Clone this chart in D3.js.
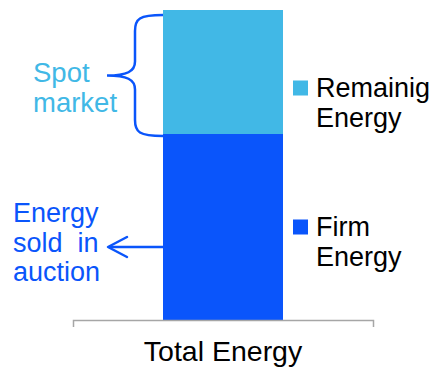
<!DOCTYPE html>
<html>
<head>
<meta charset="utf-8">
<script src="https://cdn.jsdelivr.net/npm/d3@7"></script>
<style>
  html, body { margin: 0; padding: 0; background: #fff; }
  svg { display: block; }
  text { font-family: "Liberation Sans", Arial, sans-serif; }
</style>
</head>
<body>
<script>
// ---- Data ----
const categories = ["Total Energy"];
const seriesNames = ["Firm Energy", "Remainig Energy"];
const firmValues = [60];
const remainingValues = [40];
const seriesColors = ["#0a55fb", "#41b8e6"];
const legendLines = [["Remainig", "Energy"], ["Firm", "Energy"]];
const spotLines = ["Spot", "market"];
const auctionLines = ["Energy", "sold  in", "auction"];

const W = 436, H = 368;
const svg = d3.select("body").append("svg").attr("width", W).attr("height", H);

const x = d3.scaleBand().domain(categories).range([73, 373]).paddingInner(0).paddingOuter(0.75);
const y = d3.scaleLinear().domain([0, 100]).range([320, 10]);

const table = categories.map((c, i) => ({ cat: c, "Firm Energy": firmValues[i], "Remainig Energy": remainingValues[i] }));
const stacked = d3.stack().keys(seriesNames)(table);

svg.selectAll("g.series").data(stacked).join("g")
  .attr("fill", (d, i) => seriesColors[i])
  .selectAll("rect").data(d => d).join("rect")
  .attr("x", d => x(d.data.cat))
  .attr("width", x.bandwidth())
  .attr("y", d => y(d[1]))
  .attr("height", d => y(d[0]) - y(d[1]));

// Axis
const axis = svg.append("g").attr("transform", `translate(0,${y(0)})`)
  .call(d3.axisBottom(x).tickSizeInner(0).tickSizeOuter(7).tickPadding(20));
axis.select(".domain").attr("stroke", "#a6a6a6").attr("stroke-width", 1.5);
axis.selectAll(".tick line").remove();
axis.selectAll(".tick text").attr("font-size", 28.5).attr("fill", "#000")
  .attr("font-family", "Liberation Sans, Arial, sans-serif").attr("dy", "0.71em").attr("y", 21);

// Legend
const legendBase = [97, 236];
const leg = svg.append("g");
[1, 0].forEach((si, k) => {
  const ty = legendBase[k];
  leg.append("rect").attr("x", 293).attr("y", ty - 16.5).attr("width", 15).attr("height", 15)
    .attr("fill", seriesColors[si]);
  legendLines[k].forEach((t, j) => {
    leg.append("text").attr("x", 316).attr("y", ty + j * 30).attr("font-size", 27)
      .attr("fill", "#000").text(t);
  });
});

// Brace for Spot market
const bx = x(categories[0]);
const yTop = y(100) + 5, yBot = y(60) + 2, yMid = (yTop + yBot) / 2;
const spine = bx - 28, tip = bx - 56;
const bracePath = d3.path();
bracePath.moveTo(bx, yTop);
bracePath.bezierCurveTo(spine + 4, yTop, spine, yTop + 4, spine, yTop + 16);
bracePath.lineTo(spine, yMid - 14);
bracePath.bezierCurveTo(spine, yMid - 4, spine - 8, yMid, tip, yMid);
bracePath.bezierCurveTo(spine - 8, yMid, spine, yMid + 4, spine, yMid + 14);
bracePath.lineTo(spine, yBot - 16);
bracePath.bezierCurveTo(spine, yBot - 4, spine + 4, yBot, bx, yBot);
svg.append("path").attr("d", bracePath.toString()).attr("fill", "none")
  .attr("stroke", seriesColors[0]).attr("stroke-width", 2.5);

spotLines.forEach((t, j) => {
  svg.append("text").attr("x", 33).attr("y", 82 + j * 30).attr("font-size", 27.5)
    .attr("fill", seriesColors[1]).text(t);
});

// Arrow for auction
const ay = 247, ax0 = bx, ax1 = 108;
svg.append("line").attr("x1", ax0).attr("x2", ax1 + 1).attr("y1", ay).attr("y2", ay)
  .attr("stroke", seriesColors[0]).attr("stroke-width", 2.5);
svg.append("path").attr("d", `M${ax1 + 19},${ay - 10} L${ax1},${ay} L${ax1 + 19},${ay + 10}`)
  .attr("fill", "none").attr("stroke", seriesColors[0]).attr("stroke-width", 2.5)
  .attr("stroke-linecap", "round").attr("stroke-linejoin", "round");

auctionLines.forEach((t, j) => {
  svg.append("text").attr("x", 13).attr("y", 222 + j * 29.5).attr("font-size", 27)
    .attr("fill", seriesColors[0]).style("white-space", "pre").text(t);
});
</script>
</body>
</html>
